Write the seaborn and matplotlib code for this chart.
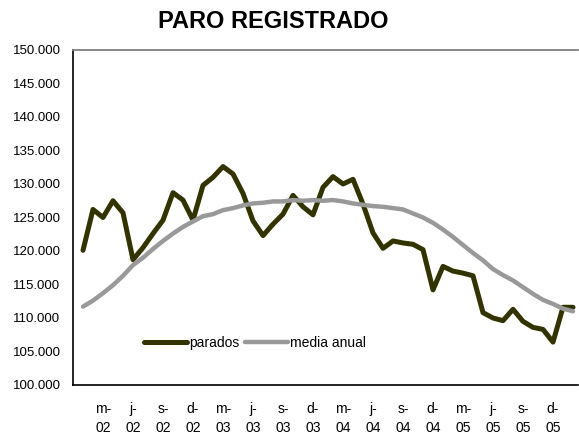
import numpy as np
import pandas as pd
import matplotlib
matplotlib.use("Agg")
import matplotlib.pyplot as plt
import seaborn as sns
from matplotlib.ticker import FuncFormatter

# monthly data, Jan 2002 - Feb 2006 (values in persons)
months = pd.date_range("2002-01-01", "2006-02-01", freq="MS")
parados = [120100, 126200, 125000, 127500, 125700, 118700, 120500, 122600, 124600, 128700,
           127600, 124600, 129800, 131000, 132600, 131500, 128600, 124500, 122300, 124000,
           125500, 128300, 126600, 125400, 129500, 131100, 130000, 130700, 127000, 122700,
           120400, 121500, 121200, 121000, 120200, 114200, 117700, 117000, 116700, 116300,
           110800, 110000, 109600, 111300, 109500, 108600, 108300, 106400, 111600, 111600]
media_anual = [111700, 112600, 113700, 114900, 116300, 117900, 119000, 120300, 121500, 122600,
               123600, 124400, 125200, 125500, 126100, 126400, 126800, 127100, 127200, 127400,
               127400, 127600, 127500, 127600, 127500, 127600, 127400, 127100, 126900, 126700,
               126600, 126400, 126200, 125600, 125000, 124200, 123200, 122100, 120900, 119700,
               118600, 117300, 116400, 115600, 114600, 113600, 112700, 112100, 111400, 111000]
month_letters = ["e", "f", "m", "a", "m", "j", "j", "a", "s", "o", "n", "d"]

df = pd.DataFrame({"idx": np.arange(len(months)), "parados": parados, "media anual": media_anual})

sns.set_style("white")
plt.rcParams["font.family"] = ["Liberation Sans", "DejaVu Sans"]
plt.rcParams["text.color"] = "black"
plt.rcParams["xtick.color"] = "black"
plt.rcParams["ytick.color"] = "black"

fig = plt.figure(figsize=(5.79, 4.36), dpi=100)
ax = fig.add_axes([73 / 579, 1 - 385 / 436, 505 / 579, 335 / 436])

sns.lineplot(data=df, x="idx", y="parados", ax=ax, color="#333300", linewidth=3.6,
             label="parados", solid_joinstyle="round", solid_capstyle="round")
sns.lineplot(data=df, x="idx", y="media anual", ax=ax, color="#999999", linewidth=3.2,
             label="media anual", solid_joinstyle="round", solid_capstyle="round")

ax.set_xlim(-1, len(months) - 0.5)
ax.set_ylim(100000, 150000)
ax.set_yticks(np.arange(100000, 150001, 5000))
ax.yaxis.set_major_formatter(FuncFormatter(lambda v, p: f"{int(v):,}".replace(",", ".")))

# monthly ticks, labels every 3 months starting in March
tick_pos = np.arange(-1, len(months))
ax.set_xticks(tick_pos)
labels = []
for t in tick_pos:
    if t >= 0 and months[t].month % 3 == 0:
        labels.append(f"{month_letters[months[t].month - 1]}-\n{months[t].strftime('%y')}")
    else:
        labels.append("")
ax.set_xticklabels(labels)

ax.tick_params(axis="y", direction="in", length=4, width=1, color="black", pad=9, labelsize=9.5)
ax.tick_params(axis="x", direction="in", length=3, width=1, color="black", pad=12, labelsize=10)
for lab in ax.get_xticklabels():
    lab.set_linespacing(1.45)

ax.set_xlabel("")
ax.set_ylabel("")
ax.spines["left"].set_color("black")
ax.spines["left"].set_linewidth(1.2)
ax.spines["bottom"].set_color("black")
ax.spines["bottom"].set_linewidth(1.2)
ax.spines["top"].set_color("#808080")
ax.spines["top"].set_linewidth(1.3)
ax.spines["right"].set_visible(False)
ax.grid(False)

ax.legend(loc="center left", bbox_to_anchor=(0.13, 0.125), ncol=2, frameon=False,
          fontsize=10, handlelength=3.1, handletextpad=0.15, columnspacing=0.4,
          borderaxespad=0)

fig.text(273 / 579, 1 - 21 / 436, "PARO REGISTRADO", ha="center", va="center",
         fontsize=17, fontweight="bold", color="black")

fig.savefig("out.png", dpi=100)
